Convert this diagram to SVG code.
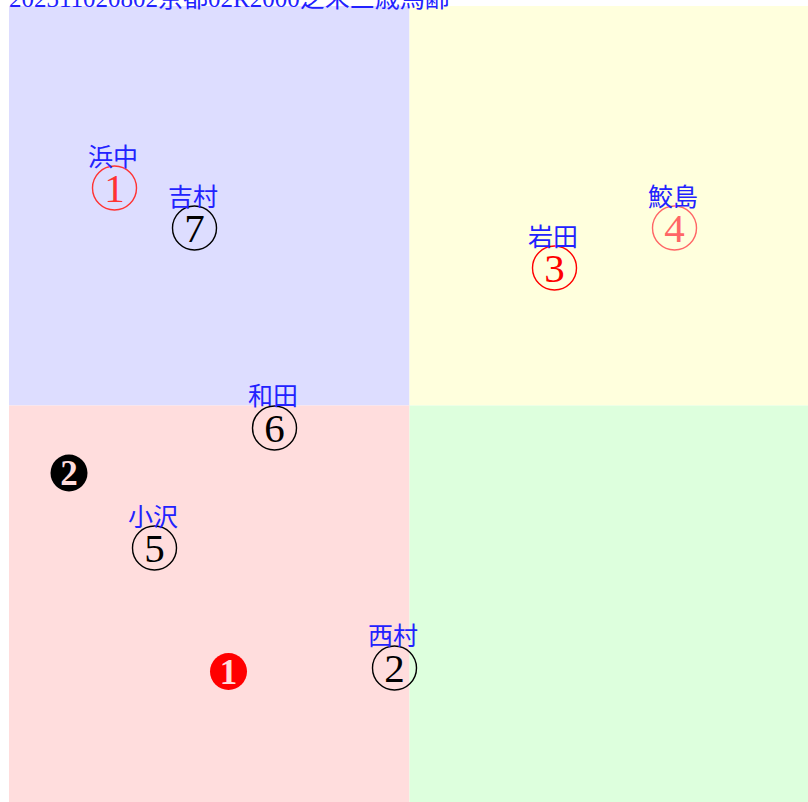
<svg xmlns="http://www.w3.org/2000/svg" width="808" height="802" viewBox="0 0 808 802">
<style>
.lbl{font-family:"Noto Sans CJK JP","Noto Sans CJK SC",sans-serif;font-size:25px;fill:#2222ff;text-anchor:middle}
.ring{fill:none;stroke-width:1.4}
.num{font-family:"Liberation Serif","DejaVu Serif",serif;font-size:41px;text-anchor:middle}
.bnum{font-family:"Liberation Serif","DejaVu Serif",serif;font-size:35px;font-weight:bold;text-anchor:middle}
</style>
<rect width="808" height="802" fill="#ffffff"/>
<g id="quadrants">
<rect x="9" y="6" width="400.5" height="399.5" fill="#ddddff"/>
<rect x="409.5" y="6" width="398.5" height="399.5" fill="#ffffdd"/>
<rect x="9" y="405.5" width="400.5" height="396.5" fill="#ffdddd"/>
<rect x="409.5" y="405.5" width="398.5" height="396.5" fill="#ddffdd"/>
</g>
<text id="title" x="9" y="7" style="font-family:'Liberation Serif','Noto Sans CJK JP',serif;font-size:25px;fill:#2222ff">202311020802京都02R2000芝未三歳馬齢</text>
<g id="n1">
<circle class="ring" cx="114.5" cy="188" r="22" stroke="#ff3333"/>
<text class="num" x="114.5" y="202" fill="#ff3333">1</text>
<text class="lbl" x="113" y="166">浜中</text>
</g>
<g id="n7">
<circle class="ring" cx="194.5" cy="228" r="22" stroke="#000"/>
<text class="num" x="194.5" y="242" fill="#000">7</text>
<text class="lbl" x="193" y="206">吉村</text>
</g>
<g id="n3">
<circle class="ring" cx="554.5" cy="268" r="22" stroke="#ff0000"/>
<text class="num" x="554.5" y="282" fill="#ff0000">3</text>
<text class="lbl" x="553" y="246">岩田</text>
</g>
<g id="n4">
<circle class="ring" cx="674.5" cy="228" r="22" stroke="#ff6666"/>
<text class="num" x="674.5" y="242" fill="#ff6666">4</text>
<text class="lbl" x="673" y="206">鮫島</text>
</g>
<g id="n6">
<circle class="ring" cx="274.5" cy="428" r="22" stroke="#000"/>
<text class="num" x="274.5" y="442" fill="#000">6</text>
<text class="lbl" x="273" y="405">和田</text>
</g>
<g id="n5">
<circle class="ring" cx="154.5" cy="548" r="22" stroke="#000"/>
<text class="num" x="154.5" y="562" fill="#000">5</text>
<text class="lbl" x="153" y="526">小沢</text>
</g>
<g id="n2">
<circle class="ring" cx="394.5" cy="668" r="22" stroke="#000"/>
<text class="num" x="394.5" y="682" fill="#000">2</text>
<text class="lbl" x="393" y="645">西村</text>
</g>
<g id="f2">
<circle cx="69" cy="473" r="18.5" fill="#000"/>
<text class="bnum" x="69" y="485" fill="#ffdddd">2</text>
</g>
<g id="f1">
<circle cx="228.5" cy="671.5" r="18.5" fill="#ff0000"/>
<text class="bnum" x="228.5" y="683.5" fill="#ffdddd">1</text>
</g>
</svg>
